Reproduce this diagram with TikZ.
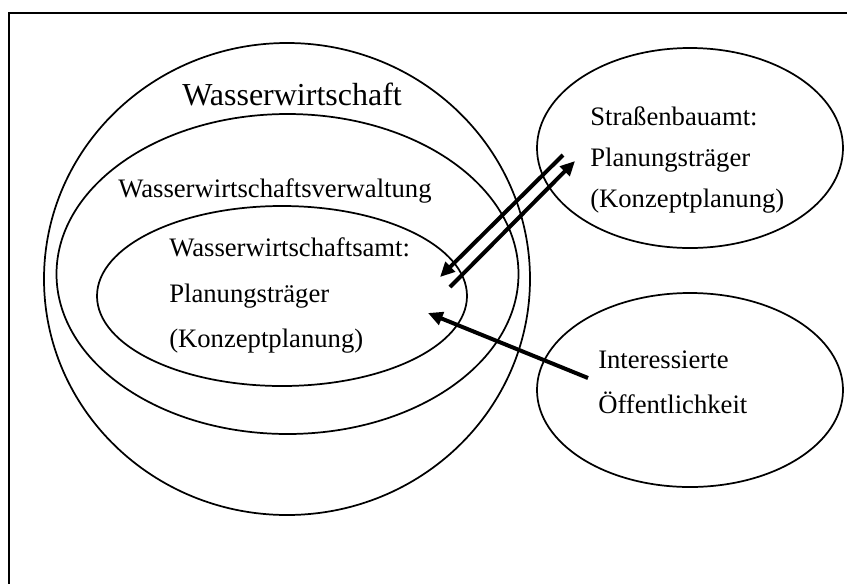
\documentclass[tikz,border=0pt]{standalone}
\usepackage{fontspec}
\setmainfont{Liberation Serif}
\usetikzlibrary{shapes.geometric,arrows.meta}
\begin{document}
\begin{tikzpicture}[x=0.75pt,y=-0.75pt,
  zone/.style={ellipse,draw,line width=1.3pt,inner sep=0pt,outer sep=0pt},
  txt/.style={anchor=base west,inner sep=0pt,font=\fontsize{20}{24}\selectfont},
  bigtxt/.style={anchor=base west,inner sep=0pt,font=\fontsize{24}{28}\selectfont},
  flow/.style={line width=3pt,-{Triangle[length=11pt,width=10pt]}}]
\clip (0,0) rectangle (847,583);
\fill[white] (0,0) rectangle (847,583);
% outer frame (only top and left edges fall inside the page)
\draw[line width=1.6pt] (9,620) -- (9,13) -- (880,13);

% nested water-management zones
\node[zone,minimum width=364.5pt,minimum height=354pt] (ww) at (287,279) {};
\node[zone,minimum width=346.5pt,minimum height=240pt] (wwv) at (287.5,274) {};
\node[zone,minimum width=277.5pt,minimum height=135pt] (wwa) at (282,296) {};

% external parties
\node[zone,minimum width=229.5pt,minimum height=150pt] (sba) at (690,148) {};
\node[zone,minimum width=229.5pt,minimum height=145.5pt] (oef) at (690,390) {};

% labels
\node[bigtxt] (tww) at (182,105) {Wasserwirtschaft};
\node[txt] (twwv) at (118,197) {Wasserwirtschaftsverwaltung};
\node[txt] (twwa1) at (169,256) {Wasserwirtschaftsamt:};
\node[txt] (twwa2) at (169,302) {Planungsträger};
\node[txt] (twwa3) at (169,347) {(Konzeptplanung)};
\node[txt] (tsba1) at (590,125) {Straßenbauamt:};
\node[txt] (tsba2) at (590,166) {Planungsträger};
\node[txt] (tsba3) at (590,207) {(Konzeptplanung)};
\node[txt] (toef1) at (598,368) {Interessierte};
\node[txt] (toef2) at (598,413) {Öffentlichkeit};

% arrow end points
\coordinate (a1) at (563,155);
\coordinate (a2) at (440,277);
\coordinate (b1) at (450,287);
\coordinate (b2) at (575,161);
\coordinate (c1) at (588,378);
\coordinate (c2) at (428,313);

\draw[flow] (a1) -- (a2);
\draw[flow] (b1) -- (b2);
\draw[flow] (c1) -- (c2);
\end{tikzpicture}
\end{document}
